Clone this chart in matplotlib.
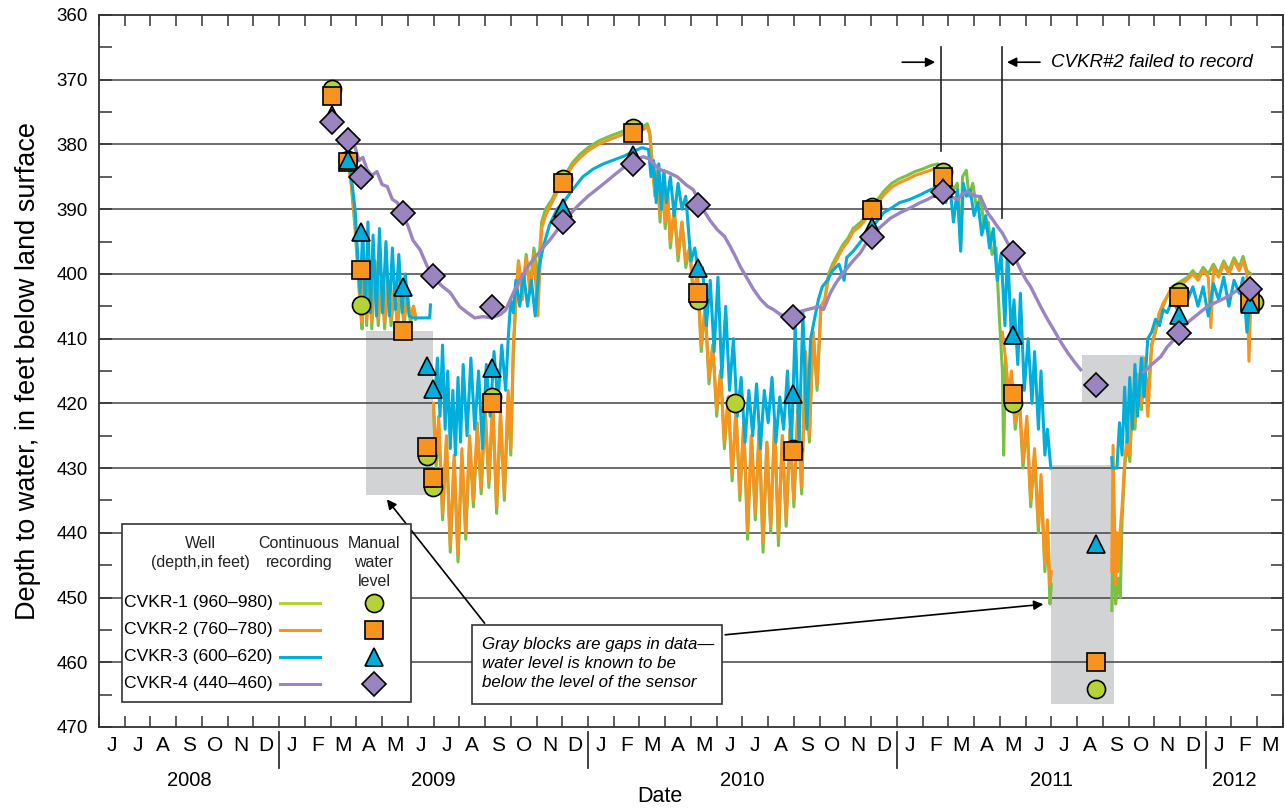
import numpy as np
import matplotlib.pyplot as plt
from matplotlib.patches import Rectangle

plt.rcParams['font.family'] = ['Liberation Sans', 'DejaVu Sans']

# x = months since 1 June 2008, y = depth to water (feet below land surface)
month_letters = list('JJASOND') + list('JFMAMJJASOND') * 3 + list('JFM')
year_labels = ['2008', '2009', '2010', '2011', '2012']

# continuous recordings (None = no record)
cvkr1_rec = [
    (9.70, 383), (9.80, 386), (9.95, 393), (10.05, 399), (10.15, 405), (10.22, 408.5), (10.30, 400),
    (10.40, 408), (10.50, 399), (10.60, 408.5), (10.72, 398), (10.85, 408), (10.98, 400), (11.10, 408.5),
    (11.22, 401), (11.35, 408), (11.48, 402), (11.60, 408.5), (11.72, 402), (11.85, 408), (11.98, 403),
    (12.10, 407.5), (12.22, 405), (12.30, 407), None,
    (13.00, 421), (13.10, 430), (13.20, 423), (13.35, 438), (13.50, 426), (13.65, 443), (13.80, 429),
    (13.95, 444.5), (14.10, 428), (14.25, 441), (14.40, 426), (14.55, 436), (14.70, 424), (14.85, 434),
    (15.00, 421), (15.15, 433), (15.30, 420), (15.45, 437), (15.60, 422), (15.75, 435), (15.90, 419),
    (16.00, 428), (16.10, 412), (16.20, 404), (16.30, 398), (16.45, 403), (16.60, 397), (16.75, 402),
    (16.90, 396), (17.05, 401), (17.20, 392), (17.35, 390), (17.60, 388.5), (17.85, 386.5), (18.10, 384.8),
    (18.40, 382.8), (18.70, 381.5), (19.00, 380.5), (19.40, 379.5), (19.80, 378.8), (20.20, 378.2),
    (20.60, 377.6), (20.90, 377.2), (21.15, 377.2), (21.30, 376.8), (21.40, 378), (21.50, 383),
    (21.60, 388), (21.70, 384), (21.80, 392), (21.90, 386), (22.00, 393), (22.10, 388), (22.20, 396),
    (22.35, 390), (22.50, 398), (22.65, 392), (22.80, 399), (22.95, 396), (23.10, 404), (23.25, 400),
    (23.40, 412), (23.55, 405), (23.70, 417), (23.85, 411), (24.00, 422), (24.15, 415), (24.30, 427),
    (24.45, 419), (24.60, 432), (24.75, 421), (24.90, 435), (25.05, 423), (25.20, 441), (25.35, 425),
    (25.50, 438), (25.65, 424), (25.80, 443), (25.95, 426), (26.10, 440), (26.25, 423), (26.40, 442),
    (26.55, 425), (26.70, 439), (26.85, 424), (27.00, 436), (27.15, 421), (27.30, 434), (27.45, 412),
    (27.60, 426), (27.75, 409), (27.90, 418), (28.05, 405), (28.20, 404), (28.35, 400), (28.50, 398.5),
    (28.70, 397), (28.90, 395.5), (29.10, 394.5), (29.30, 393), (29.60, 392), (29.90, 390.5),
    (30.20, 388.8), (30.50, 387.2), (30.80, 386), (31.10, 385.3), (31.40, 384.8), (31.70, 384.2),
    (32.00, 383.8), (32.30, 383.3), (32.60, 383), (32.80, 384), (32.95, 388), (33.10, 386), (33.20, 387),
    (33.35, 386), (33.48, 396), (33.55, 385), (33.70, 384), (33.80, 388), (33.95, 386), (34.10, 390),
    (34.25, 388), (34.40, 393), (34.55, 392), (34.70, 397), (34.85, 396), (35.00, 408), (35.10, 415),
    (35.15, 428), (35.22, 413), (35.35, 420), (35.45, 416), (35.60, 424), (35.75, 419), (35.90, 430),
    (36.05, 423), (36.20, 436), (36.35, 428), (36.50, 440), (36.60, 432), (36.75, 446), (36.85, 440),
    (36.95, 451), (37.00, 448), None,
    (39.35, 452), (39.40, 440), (39.50, 451), (39.60, 447), (39.68, 450), (39.75, 438), (39.85, 430),
    (39.95, 426), (40.05, 429), (40.15, 420), (40.25, 424), (40.35, 416), (40.50, 421), (40.60, 413),
    (40.75, 419), (40.90, 411), (41.05, 409), (41.20, 406), (41.35, 405), (41.50, 403.5), (41.70, 402),
    (41.90, 401.5), (42.10, 401), (42.30, 400.5), (42.50, 399.5), (42.70, 400.5), (42.90, 399),
    (43.10, 400), (43.30, 398.5), (43.50, 400), (43.70, 398), (43.90, 399.5), (44.10, 397.5),
    (44.30, 399), (44.45, 397.3), (44.60, 399.5), (44.75, 400),
]

cvkr2_rec = [
    (9.70, 383), (9.80, 386), (9.95, 392), (10.05, 398), (10.15, 404), (10.22, 407.5), (10.30, 400),
    (10.40, 407), (10.50, 399), (10.60, 407.5), (10.72, 398), (10.85, 407), (10.98, 400), (11.10, 407.5),
    (11.22, 401), (11.35, 407), (11.48, 402), (11.60, 407.5), (11.72, 402), (11.85, 407), (11.98, 403),
    (12.10, 407), (12.22, 405), (12.30, 406.5), None,
    (13.00, 420), (13.10, 429), (13.20, 422), (13.35, 437), (13.50, 425), (13.65, 442), (13.80, 428),
    (13.95, 443.5), (14.10, 427), (14.25, 440), (14.40, 425), (14.55, 435), (14.70, 423), (14.85, 433),
    (15.00, 420.5), (15.15, 432), (15.30, 419.5), (15.45, 436), (15.60, 421), (15.75, 434), (15.90, 418),
    (16.00, 427), (16.10, 411), (16.20, 404), (16.30, 398), (16.45, 404), (16.60, 397.5), (16.75, 403),
    (16.90, 397), (17.05, 406.5), (17.20, 393), (17.35, 391), (17.60, 389), (17.85, 387), (18.10, 385.3),
    (18.40, 383.3), (18.70, 382), (19.00, 381), (19.40, 380), (19.80, 379.3), (20.20, 378.7),
    (20.60, 378.1), (20.90, 377.7), (21.15, 377.7), (21.30, 377.3), (21.40, 378.5), (21.50, 384),
    (21.60, 387), (21.70, 384), (21.80, 391), (21.90, 386), (22.00, 392), (22.10, 388), (22.20, 395),
    (22.35, 390), (22.50, 397), (22.65, 392), (22.80, 398), (22.95, 396), (23.10, 403), (23.25, 400),
    (23.40, 411), (23.55, 405), (23.70, 416), (23.85, 411), (24.00, 421), (24.15, 415), (24.30, 426),
    (24.45, 419), (24.60, 431), (24.75, 421), (24.90, 434), (25.05, 423), (25.20, 439.5), (25.35, 425),
    (25.50, 437), (25.65, 424), (25.80, 441.5), (25.95, 426), (26.10, 439), (26.25, 423), (26.40, 440.5),
    (26.55, 425), (26.70, 438), (26.85, 424), (27.00, 435), (27.15, 421), (27.30, 433), (27.45, 412),
    (27.60, 425), (27.75, 409), (27.90, 417), (28.05, 405), (28.20, 404), (28.35, 400.5), (28.50, 399),
    (28.70, 397.5), (28.90, 396), (29.10, 395), (29.30, 393.5), (29.60, 392.5), (29.90, 391),
    (30.20, 389.3), (30.50, 387.8), (30.80, 386.6), (31.10, 385.9), (31.40, 385.4), (31.70, 384.8),
    (32.00, 384.4), (32.30, 384), (32.60, 383.6), (32.78, 384), None,
    (35.10, 409), (35.22, 413), (35.35, 419), (35.45, 415), (35.60, 423), (35.75, 418), (35.90, 429),
    (36.05, 422), (36.20, 435), (36.35, 427), (36.50, 439), (36.60, 431), (36.75, 445), (36.85, 438),
    (36.95, 448), (37.00, 446), None,
    (39.35, 446), (39.40, 426.5), (39.50, 448), (39.55, 440), (39.60, 446), (39.68, 439.5), (39.75, 436),
    (39.85, 429), (39.95, 425), (40.05, 428), (40.15, 419), (40.25, 423), (40.35, 415.5), (40.50, 420),
    (40.60, 413), (40.75, 422), (40.90, 411), (41.05, 408.5), (41.20, 406), (41.35, 404.5), (41.50, 403.5),
    (41.70, 402), (41.90, 401.8), (42.10, 401.5), (42.30, 400.8), (42.50, 400), (42.70, 401),
    (42.90, 399.5), (43.10, 400.5), (43.20, 408.3), (43.30, 399), (43.50, 400.5), (43.70, 398.5),
    (43.90, 400), (44.10, 398), (44.30, 399.5), (44.45, 398), (44.60, 400), (44.68, 413.5), (44.75, 404),
]

cvkr3_rec = [
    (9.70, 383), (9.80, 385), (9.95, 390), (10.05, 397), (10.15, 403), (10.25, 393), (10.35, 406),
    (10.45, 392), (10.55, 406), (10.65, 394), (10.78, 406.5), (10.90, 393), (11.02, 406), (11.15, 395),
    (11.28, 406.5), (11.40, 396), (11.52, 405.5), (11.65, 397), (11.78, 406), (11.90, 400),
    (12.05, 406.5), (12.20, 406.8), (12.85, 406.8), (12.88, 404.8), None,
    (13.05, 419), (13.15, 413), (13.25, 422), (13.35, 411), (13.45, 424), (13.55, 415), (13.65, 427),
    (13.75, 418), (13.85, 428), (13.95, 416), (14.05, 426), (14.15, 414), (14.30, 425), (14.45, 413),
    (14.60, 424), (14.75, 415), (14.90, 427), (15.05, 414), (15.20, 422), (15.35, 412), (15.50, 420),
    (15.65, 411), (15.80, 418), (15.90, 410), (16.00, 404), (16.10, 406), (16.20, 401), (16.35, 405),
    (16.50, 400), (16.65, 405), (16.80, 401), (16.95, 406.5), (17.10, 399), (17.25, 396), (17.50, 392.5),
    (17.80, 390), (18.04, 389), (18.40, 387), (18.80, 385), (19.20, 383.8), (19.60, 383), (20.00, 382.4),
    (20.40, 381.8), (20.80, 381), (21.10, 380.5), (21.35, 380.8), (21.45, 385), (21.55, 382.5),
    (21.65, 389), (21.75, 383), (21.85, 390), (21.95, 384), (22.05, 389), (22.20, 385), (22.35, 391),
    (22.50, 386), (22.65, 390), (22.80, 388), (23.00, 398), (23.15, 396), (23.30, 400), (23.45, 399),
    (23.60, 408), (23.75, 401), (23.90, 412), (24.05, 400.5), (24.20, 416), (24.35, 405), (24.50, 418),
    (24.65, 410), (24.80, 422), (24.95, 416), (25.10, 426), (25.25, 418), (25.40, 425), (25.55, 417),
    (25.70, 427), (25.85, 418), (26.00, 423), (26.15, 416), (26.30, 426), (26.45, 419), (26.60, 424),
    (26.75, 415), (26.90, 427), (27.05, 408), (27.20, 426), (27.35, 406), (27.50, 424), (27.65, 410),
    (27.80, 407), (27.95, 404), (28.10, 402), (28.30, 401), (28.50, 399.5), (28.75, 398.5), (28.95, 401),
    (29.05, 397.5), (29.30, 396.5), (29.60, 395), (29.90, 393.5), (30.20, 392), (30.50, 390.5),
    (30.80, 389.8), (31.10, 389), (31.50, 388.5), (31.90, 387.8), (32.30, 387), (32.70, 386.5),
    (32.90, 389), (33.05, 386), (33.20, 392), (33.35, 387), (33.48, 396.5), (33.58, 386), (33.70, 388),
    (33.85, 387), (34.00, 391), (34.15, 389), (34.30, 394), (34.45, 391), (34.60, 396), (34.75, 393),
    (34.90, 401), (35.05, 397), (35.20, 408), (35.30, 396), (35.45, 410), (35.55, 404), (35.70, 414),
    (35.80, 403), (35.95, 418), (36.10, 410), (36.25, 420), (36.35, 412), (36.50, 424), (36.60, 415),
    (36.75, 428), (36.85, 424), (36.98, 430), None,
    (39.35, 428.4), (39.37, 430), (39.55, 430), (39.65, 423), (39.75, 428), (39.85, 417.5), (39.95, 426),
    (40.05, 416), (40.15, 424), (40.25, 414), (40.35, 422), (40.50, 413), (40.60, 419), (40.75, 410),
    (40.90, 409), (41.05, 407), (41.20, 408), (41.35, 405.5), (41.50, 406), (41.70, 404), (41.90, 405.5),
    (42.10, 403), (42.30, 404), (42.50, 402), (42.70, 405), (42.90, 402), (43.10, 406.5), (43.30, 401.5),
    (43.50, 404), (43.70, 400.5), (43.90, 405), (44.10, 401), (44.30, 403), (44.45, 400.6), (44.60, 409),
    (44.75, 403),
]

cvkr4_rec = [
    (9.95, 380.4), (10.10, 382.5), (10.25, 382), (10.42, 383.9), (10.60, 384.8), (10.80, 384.2),
    (11.00, 386.2), (11.20, 386.5), (11.40, 388.5), (11.60, 389), (11.82, 391.2), (12.00, 392.5),
    (12.20, 394.8), (12.48, 396.3), (12.75, 398.8), (12.99, 400.4), (13.30, 401.8), (13.65, 402.9),
    (14.00, 405), (14.31, 406), (14.60, 406.8), (14.93, 406.6), (15.25, 406.8), (15.59, 406.3),
    (15.80, 405.6), (15.98, 404), (16.15, 402.5), (16.37, 400.9), (16.60, 399.2), (16.87, 397.8),
    (17.20, 396.2), (17.53, 394.7), (17.85, 393), (18.20, 391.2), (18.60, 389.5), (19.00, 388),
    (19.48, 386.5), (20.00, 384.8), (20.53, 383.1), (20.85, 382.3), (21.15, 381.9), (21.35, 382.2),
    (21.50, 382.7), (21.65, 383.4), (21.81, 383.9), (22.10, 384.3), (22.47, 385), (22.80, 386.2),
    (23.09, 387), (23.30, 388.6), (23.48, 390.1), (23.75, 391.8), (24.03, 393.2), (24.30, 394.2),
    (24.53, 395.8), (24.75, 397.5), (24.92, 398.9), (25.20, 400.8), (25.43, 402.4), (25.70, 403.9),
    (25.97, 405), (26.20, 405.5), (26.48, 406.3), (26.75, 406.7), (26.98, 406.6), (27.25, 405.8),
    (27.53, 405.5), (27.75, 405.3), (27.92, 405), (28.15, 405.5), (28.42, 402.9), (28.65, 401.3),
    (28.93, 399.8), (29.25, 398.2), (29.59, 396.7), (29.98, 394.2), (30.35, 392.8), (30.75, 391.4),
    (31.15, 390.5), (31.53, 389.8), (31.85, 389.1), (32.19, 388.5), (32.50, 387.8), (32.78, 387.3),
    (33.05, 388), (33.36, 388.5), (33.55, 387.6), (33.75, 387.3), (34.00, 387.9), (34.25, 388.1),
    (34.53, 390.6), (34.70, 391.5), (34.91, 392.7), (35.10, 393.7), (35.30, 395.2), (35.55, 397.2),
    (35.81, 399.4), (36.00, 400.8), (36.20, 402), (36.40, 403.6), (36.59, 405.1), (36.85, 407),
    (37.09, 408.6), (37.35, 410.4), (37.64, 412.2), (37.90, 413.6), (38.14, 414.8), None,
    (40.59, 415.2), (40.90, 414), (41.25, 412.8), (41.50, 411.3), (41.76, 410.2), (42.00, 408.8),
    (42.30, 407.5), (42.70, 406.2), (43.08, 405), (43.50, 404.2), (43.86, 403.5), (44.20, 402.6),
    (44.48, 402.1), (44.75, 401.9), (44.95, 401.8),
]

# manual water-level measurements
cvkr1_manual = [(9.06, 371.4), (9.68, 382.4), (10.19, 404.8), (12.75, 428.2), (12.99, 433.0),
                (15.28, 419.0), (18.04, 385.4), (20.76, 377.4), (23.29, 404.0), (24.73, 419.9),
                (26.98, 427.0), (30.05, 389.6), (32.78, 384.2), (35.50, 420.0), (38.72, 464.2),
                (41.95, 402.8), (44.87, 404.3)]
cvkr2_manual = [(9.06, 372.5), (9.68, 382.7), (10.19, 399.4), (11.82, 408.8), (12.75, 426.8),
                (12.99, 431.5), (15.28, 419.9), (18.04, 385.9), (20.76, 378.2), (23.29, 402.9),
                (26.98, 427.4), (30.05, 390.1), (32.78, 385.0), (35.50, 418.6), (38.72, 460.0),
                (41.95, 403.5), (44.71, 404.3)]
cvkr3_manual = [(9.06, 375.5), (9.68, 382.4), (10.19, 393.5), (11.82, 402.0), (12.75, 414.3),
                (12.99, 417.8), (15.28, 414.5), (18.04, 389.8), (20.76, 381.6), (23.29, 399.1),
                (26.98, 418.6), (30.05, 392.7), (32.78, 386.7), (35.50, 409.4), (38.72, 441.8),
                (41.95, 406.3), (44.71, 404.7)]
cvkr4_manual = [(9.06, 376.5), (9.68, 379.3), (10.19, 385.0), (11.82, 390.6), (12.99, 400.3),
                (15.28, 405.1), (18.04, 392.0), (20.76, 383.1), (23.29, 389.3), (26.98, 406.6),
                (30.05, 394.3), (32.78, 387.3), (35.50, 396.7), (38.72, 417.1), (41.95, 409.2),
                (44.71, 402.4)]

# data gaps: (start month, end month, top depth, bottom depth)
gap_blocks = [(10.38, 12.99, 408.8, 434.2), (36.97, 39.42, 429.6, 466.5), (38.18, 40.59, 412.6, 420.0)]
# period CVKR-2 failed to record
failed_start, failed_end = 32.7, 35.07

wells = ['CVKR-1 (960\u2013980)', 'CVKR-2 (760\u2013780)', 'CVKR-3 (600\u2013620)', 'CVKR-4 (440\u2013460)']
line_colors = ['#7ac143', '#f7941d', '#00aedb', '#9b85c0']
legend_line_colors = ['#b2d235', '#f7941d', '#00aedb', '#9b85c0']
marker_colors = ['#b5d334', '#f7941d', '#00aedb', '#9b85c0']
markers = ['o', 's', '^', 'D']
marker_sizes = [13, 13, 13, 12]


def to_xy(pairs):
    xs = [np.nan if p is None else p[0] for p in pairs]
    ys = [np.nan if p is None else p[1] for p in pairs]
    return np.array(xs), np.array(ys)


fig = plt.figure(figsize=(12.85, 8.09), dpi=100)
ax = fig.add_axes([0.0770, 0.1014, 0.9214, 0.8801])

for x0, x1, y0, y1 in gap_blocks:
    ax.add_patch(Rectangle((x0, y0), x1 - x0, y1 - y0, facecolor='#d1d3d4', edgecolor='none', zorder=1))

for y in range(370, 470, 10):
    ax.axhline(y, color='#444444', lw=1.1, zorder=1.5)

recs = [cvkr1_rec, cvkr2_rec, cvkr3_rec, cvkr4_rec]
for i, rec in enumerate(recs):
    x, y = to_xy(rec)
    ax.plot(x, y, color=line_colors[i], lw=2.4 if i == 3 else 2.2, zorder=2 + i * 0.1)

manuals = [cvkr1_manual, cvkr2_manual, cvkr3_manual, cvkr4_manual]
for i, man in enumerate(manuals):
    x, y = to_xy(man)
    ax.plot(x, y, ls='none', marker=markers[i], ms=marker_sizes[i], mfc=marker_colors[i],
            mec='black', mew=1.2, zorder=5 + i)

ax.set_xlim(0, 46)
ax.set_ylim(470, 360)

# axes styling
for s in ax.spines.values():
    s.set_color('#333333')
    s.set_linewidth(1.3)
ax.set_yticks(np.arange(360, 471, 10))
ax.set_yticks(np.arange(365, 470, 10), minor=True)
ax.tick_params(axis='y', which='both', direction='in', length=9, width=1.1, right=True,
               labelsize=13.5, pad=8, color='#333333')
ax.set_xticks(np.arange(0, 47))
ax.tick_params(axis='x', which='both', direction='in', length=8, width=1.1, top=True,
               labelbottom=False, color='#333333')

# month letters, year labels, year separators
xtr = ax.get_xaxis_transform()
for i, lab in enumerate(month_letters):
    ax.text(i + 0.5, -0.026, lab, transform=xtr, ha='center', va='center', fontsize=15)
jan_idx = [i for i, lab in enumerate(month_letters) if lab == 'J' and
           (i + 1 < len(month_letters) and month_letters[i + 1] == 'F')]
bounds = [0] + jan_idx + [len(month_letters)]
for k, yl in enumerate(year_labels):
    xc = (bounds[k] + bounds[k + 1]) / 2
    if k == len(year_labels) - 1:
        xc -= 0.4
    ax.text(xc, -0.075, yl, transform=xtr, ha='center', va='center', fontsize=14.5)
for j in jan_idx:
    ax.plot([j, j], [-0.007, -0.058], transform=xtr, color='#333333', lw=1.3, clip_on=False)

ax.text(0.474, -0.098, 'Date', transform=ax.transAxes, ha='center', va='center', fontsize=15.5)
ax.set_ylabel('Depth to water, in feet below land surface', fontsize=19.5, labelpad=11)

# CVKR-2 failed-to-record annotation
ax.plot([failed_start, failed_start], [365.0, 381.0], color='#222222', lw=1.2, zorder=4)
ax.plot([failed_end, failed_end], [365.0, 391.3], color='#222222', lw=1.2, zorder=4)
ax.annotate('', xy=(failed_start - 0.1, 367.3), xytext=(failed_start - 1.6, 367.3),
            arrowprops=dict(arrowstyle='-|>', color='black', lw=1.2, mutation_scale=14))
ax.annotate('', xy=(failed_end + 0.1, 367.3), xytext=(failed_end + 1.6, 367.3),
            arrowprops=dict(arrowstyle='-|>', color='black', lw=1.2, mutation_scale=14))
ax.text(36.97, 367.4, 'CVKR#2 failed to record', fontsize=13.5, style='italic', ha='left', va='center')

# gray-block note
ax.add_patch(Rectangle((14.5, 454.3), 9.72, 12.2, facecolor='white', edgecolor='#333333', lw=1.2, zorder=10))
ax.text(14.9, 460.2, 'Gray blocks are gaps in data\u2014\nwater level is known to be\nbelow the level of the sensor',
        fontsize=12.2, style='italic', ha='left', va='center', linespacing=1.3, zorder=11)
ax.annotate('', xy=(11.12, 434.5), xytext=(15.05, 454.3),
            arrowprops=dict(arrowstyle='-|>', color='black', lw=1.2, mutation_scale=14), zorder=9)
ax.annotate('', xy=(36.8, 451.0), xytext=(24.22, 455.8),
            arrowprops=dict(arrowstyle='-|>', color='black', lw=1.2, mutation_scale=14), zorder=9)

# legend drawn as a table
ta = ax.transAxes
ax.add_patch(Rectangle((0.0194, 0.0351), 0.2441, 0.25, transform=ta, facecolor='white',
                       edgecolor='#333333', lw=1.2, zorder=10))
hdr = dict(transform=ta, ha='center', va='center', fontsize=11.5, color='#222222', zorder=11)
ax.text(0.0853, 0.257, 'Well', **hdr)
ax.text(0.0853, 0.2303, '(depth,in feet)', **hdr)
ax.text(0.1689, 0.257, 'Continuous', **hdr)
ax.text(0.1689, 0.2303, 'recording', **hdr)
ax.text(0.2323, 0.257, 'Manual', **hdr)
ax.text(0.2323, 0.2303, 'water', **hdr)
ax.text(0.2323, 0.2037, 'level', **hdr)
row_y = [0.1742, 0.1362, 0.0983, 0.0604]
for i, name in enumerate(wells):
    ax.text(0.0211, row_y[i], name, transform=ta, ha='left', va='center', fontsize=12.6, zorder=11)
    ax.plot([0.1529, 0.1867], [row_y[i], row_y[i]], transform=ta, color=legend_line_colors[i],
            lw=2.2, zorder=11)
    ax.plot([0.2323], [row_y[i]], transform=ta, ls='none', marker=markers[i], ms=marker_sizes[i],
            mfc=marker_colors[i], mec='black', mew=1.2, zorder=12)

fig.savefig('out.png', dpi=100)
